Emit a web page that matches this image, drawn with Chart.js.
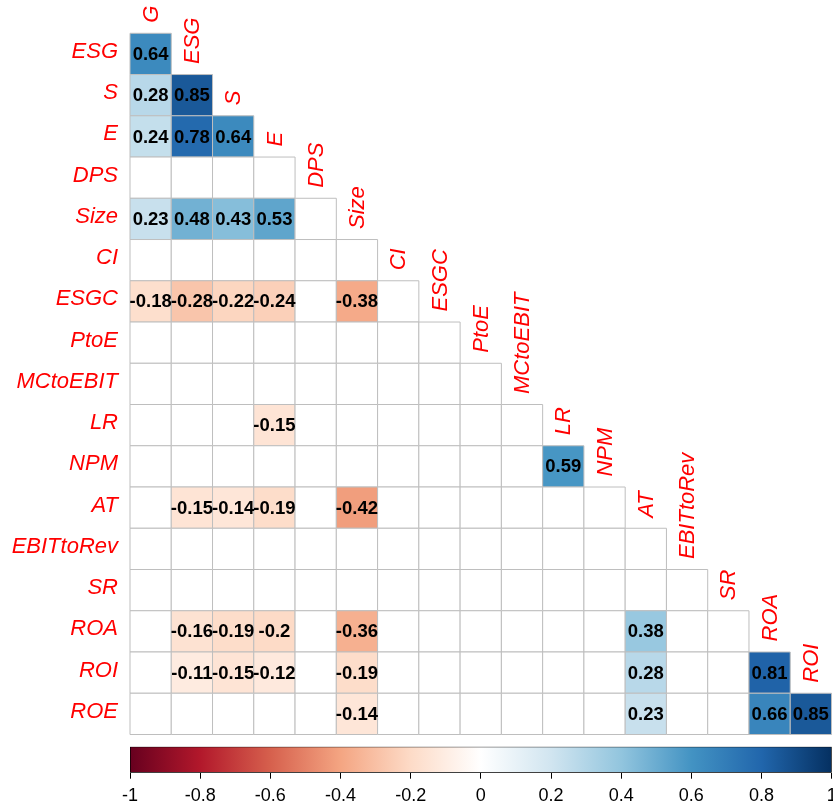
<!DOCTYPE html>
<html>
<head>
<meta charset="utf-8">
<script src="https://cdn.jsdelivr.net/npm/chart.js@4.4.1/dist/chart.umd.min.js"></script>
<style>
  html, body { margin: 0; padding: 0; background: #fff; overflow: hidden; }
  #wrap { position: relative; width: 833px; height: 808px; overflow: hidden; }
  canvas { position: absolute; left: 0; }
  #corr { top: 0; }
  #bar { top: 734px; }
</style>
</head>
<body>
<div id="wrap">
  <canvas id="corr" width="833" height="808"></canvas>
  <canvas id="bar" width="845" height="74"></canvas>
</div>
<script>
// Variables listed down the side (rows) and along the diagonal (columns)
const rowLabels = ['ESG', 'S', 'E', 'DPS', 'Size', 'CI', 'ESGC', 'PtoE', 'MCtoEBIT',
  'LR', 'NPM', 'AT', 'EBITtoRev', 'SR', 'ROA', 'ROI', 'ROE'];
const colLabels = ['G', 'ESG', 'S', 'E', 'DPS', 'Size', 'CI', 'ESGC', 'PtoE',
  'MCtoEBIT', 'LR', 'NPM', 'AT', 'EBITtoRev', 'SR', 'ROA', 'ROI'];

// Lower-triangle correlations, one array per row; null = not significant (left blank)
const corr = [
  [0.64],
  [0.28, 0.85],
  [0.24, 0.78, 0.64],
  [null, null, null, null],
  [0.23, 0.48, 0.43, 0.53, null],
  [null, null, null, null, null, null],
  [-0.18, -0.28, -0.22, -0.24, null, -0.38, null],
  [null, null, null, null, null, null, null, null],
  [null, null, null, null, null, null, null, null, null],
  [null, null, null, -0.15, null, null, null, null, null, null],
  [null, null, null, null, null, null, null, null, null, null, 0.59],
  [null, -0.15, -0.14, -0.19, null, -0.42, null, null, null, null, null, null],
  [null, null, null, null, null, null, null, null, null, null, null, null, null],
  [null, null, null, null, null, null, null, null, null, null, null, null, null, null],
  [null, -0.16, -0.19, -0.2, null, -0.36, null, null, null, null, null, null, 0.38, null, null],
  [null, -0.11, -0.15, -0.12, null, -0.19, null, null, null, null, null, null, 0.28, null, null, 0.81],
  [null, null, null, null, null, -0.14, null, null, null, null, null, null, 0.23, null, null, 0.66, 0.85]
];

// Colour bar ticks and the diverging red-blue palette from -1 to 1
const scaleTicks = [-1, -0.8, -0.6, -0.4, -0.2, 0, 0.2, 0.4, 0.6, 0.8, 1];
const palette = ['#67001F', '#B2182B', '#D6604D', '#F4A582', '#FDDBC7', '#FFFFFF',
  '#D1E5F0', '#92C5DE', '#4393C3', '#2166AC', '#053061'];

const FONT = "'Liberation Sans', Arial, Helvetica, sans-serif";
Chart.defaults.font.family = FONT;

function hexToRgb(h) {
  return [parseInt(h.slice(1, 3), 16), parseInt(h.slice(3, 5), 16), parseInt(h.slice(5, 7), 16)];
}
function colorFor(v) {
  if (v === null || v === undefined) return '#FFFFFF';
  const pos = (v + 1) / 2 * (palette.length - 1);
  const i = Math.min(Math.floor(pos), palette.length - 2);
  const t = pos - i;
  const a = hexToRgb(palette[i]), b = hexToRgb(palette[i + 1]);
  const c = a.map((ch, k) => Math.round(ch + (b[k] - ch) * t));
  return `rgb(${c[0]},${c[1]},${c[2]})`;
}

// One point per lower-triangle cell
const cells = [];
corr.forEach((row, i) => row.forEach((v, j) => cells.push({ x: j, y: i, v: v })));

const cellSide = (chart) => {
  const xs = chart.scales.x;
  return Math.abs(xs.getPixelForValue(1) - xs.getPixelForValue(0));
};

// Column names above the diagonal and coefficients inside the cells
const annotate = {
  id: 'annotate',
  afterDatasetsDraw(chart) {
    const { ctx } = chart;
    const x = chart.scales.x, y = chart.scales.y;
    ctx.save();
    ctx.font = `bold 18.5px ${FONT}`;
    ctx.fillStyle = '#000';
    ctx.textAlign = 'center';
    ctx.textBaseline = 'middle';
    cells.forEach(c => {
      if (c.v === null) return;
      ctx.fillText(String(c.v), x.getPixelForValue(c.x), y.getPixelForValue(c.y) + 1);
    });
    ctx.font = `italic 22px ${FONT}`;
    ctx.fillStyle = '#FF0000';
    ctx.textAlign = 'left';
    ctx.textBaseline = 'middle';
    colLabels.forEach((lab, j) => {
      const px = x.getPixelForValue(j) + 1;
      const py = y.getPixelForValue(j - 0.5) - 10.5;
      ctx.save();
      ctx.translate(px, py);
      ctx.rotate(-Math.PI / 2);
      ctx.fillText(lab, 0, 0);
      ctx.restore();
    });
    ctx.restore();
  }
};

new Chart(document.getElementById('corr'), {
  type: 'scatter',
  data: {
    datasets: [{
      data: cells,
      pointStyle: 'rect',
      pointRadius: (ctx) => cellSide(ctx.chart) / Math.SQRT2,
      pointHoverRadius: (ctx) => cellSide(ctx.chart) / Math.SQRT2,
      backgroundColor: (ctx) => colorFor(ctx.raw ? ctx.raw.v : null),
      borderColor: '#BEBEBE',
      borderWidth: 1,
      clip: false
    }]
  },
  options: {
    responsive: false,
    animation: false,
    events: [],
    layout: { padding: { left: 0, top: 33.3, right: 1.5, bottom: 73.5 } },
    plugins: { legend: { display: false }, tooltip: { enabled: false } },
    scales: {
      x: { type: 'linear', min: -0.5, max: 16.5, display: false },
      y: {
        type: 'linear', min: -0.5, max: 16.5, reverse: true,
        afterBuildTicks: (s) => { s.ticks = rowLabels.map((_, i) => ({ value: i - 0.05 })); },
        afterFit: (s) => { s.width = 130; },
        grid: { display: false, drawTicks: false },
        border: { display: false },
        ticks: {
          autoSkip: false,
          padding: 12,
          color: '#FF0000',
          font: { size: 22, style: 'italic', family: FONT },
          callback: (value, index) => rowLabels[index]
        }
      }
    }
  },
  plugins: [annotate]
});

// Colour legend: one floating bar spanning -1..1 filled with the palette
new Chart(document.getElementById('bar'), {
  type: 'bar',
  data: {
    labels: ['r'],
    datasets: [{
      data: [[scaleTicks[0], scaleTicks[scaleTicks.length - 1]]],
      backgroundColor: (ctx) => {
        const area = ctx.chart.chartArea;
        if (!area) return '#fff';
        const g = ctx.chart.ctx.createLinearGradient(area.left, 0, area.right, 0);
        palette.forEach((c, i) => g.addColorStop(i / (palette.length - 1), c));
        return g;
      },
      borderColor: '#000',
      borderWidth: 1,
      borderSkipped: false,
      barPercentage: 1,
      categoryPercentage: 1
    }]
  },
  options: {
    indexAxis: 'y',
    responsive: false,
    animation: false,
    events: [],
    layout: { padding: { left: 130, top: 12.7, right: 13.3, bottom: 0 } },
    plugins: { legend: { display: false }, tooltip: { enabled: false } },
    scales: {
      y: { type: 'category', display: false },
      x: {
        type: 'linear', min: -1, max: 1,
        afterBuildTicks: (s) => { s.ticks = scaleTicks.map(v => ({ value: v })); },
        afterFit: (s) => { s.height = 35.3; },
        border: { display: false },
        grid: { drawOnChartArea: false, drawTicks: true, tickLength: 6, color: '#000', lineWidth: 1 },
        ticks: {
          autoSkip: false,
          maxRotation: 0,
          padding: 7,
          color: '#000',
          font: { size: 18, family: FONT },
          callback: (v) => String(v)
        }
      }
    }
  }
});
</script>
</body>
</html>
